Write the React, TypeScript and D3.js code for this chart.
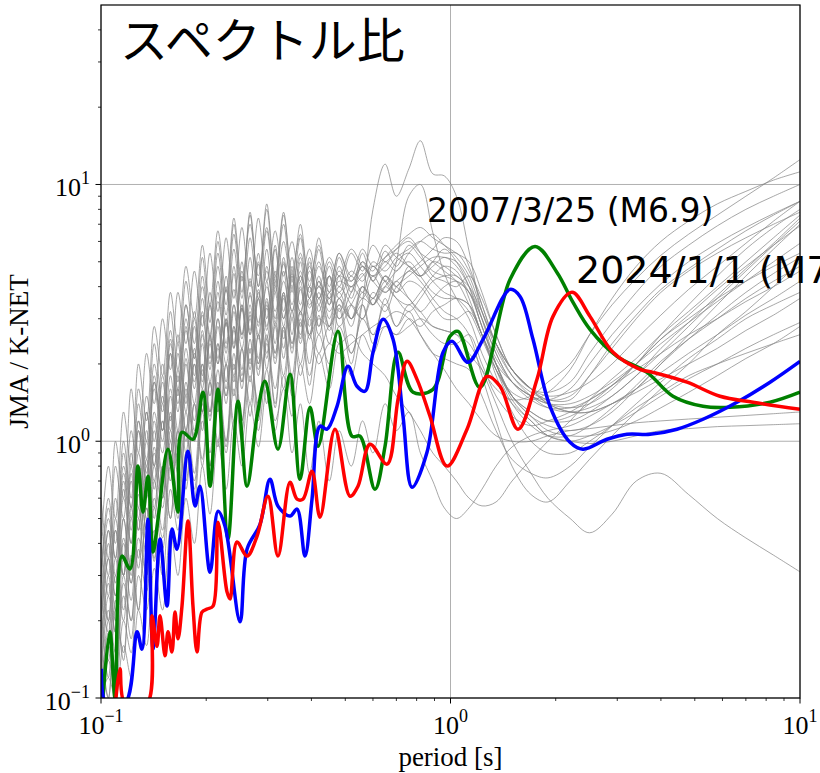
import React from "react";
import * as d3 from "d3";

// Shared period grid for the gray (other events) curves [s]
const periods = [
  0.100, 0.105, 0.110, 0.116, 0.122, 0.128, 0.135, 0.142,
  0.150, 0.158, 0.166, 0.175, 0.185, 0.195, 0.205, 0.216, 0.228, 0.240, 0.253, 0.267,
  0.282, 0.298, 0.315, 0.333, 0.352, 0.372, 0.395, 0.42, 0.45, 0.48,
  0.52, 0.56, 0.60, 0.65, 0.70, 0.76, 0.82, 0.89, 0.96,
  1.04, 1.13, 1.23, 1.35, 1.5, 1.7, 1.9,
  2.2, 2.5, 2.9, 3.4, 4.0, 4.8, 5.8, 7.0, 8.4, 10,
];

const gray01 = [0.15,0.35,0.25,0.6,0.4,1.1,0.7,1.6, 1.0,2.2,1.3,2.8,1.6,3.2,1.9,3.8,2.2,4.5,2.5,4.2, 2.6,4.8,2.9,5.2,3.2,4.6,3.0,4.2,3.4,4.8, 3.6,5.0,4.2,5.5,4.8,5.8,5.2,4.6,4.4, 4.2,3.8,3.0,2.2,1.7,1.5,1.4, 1.35,1.4,1.6,2.0,2.6,3.4,4.4,5.6,6.8,8.0];
const gray02 = [0.25,0.18,0.45,0.3,0.8,0.5,1.3,0.8, 1.8,1.1,2.4,1.4,3.0,1.7,3.4,2.0,3.9,2.3,4.4,2.6, 4.9,2.7,5.6,3.0,4.5,2.8,4.0,3.2,4.4,3.0, 3.8,4.5,3.4,4.0,4.6,5.0,4.4,3.8,3.6, 3.6,3.4,2.6,2.0,1.5,1.25,1.15, 1.1,1.15,1.3,1.6,2.0,2.5,3.1,3.8,4.5,5.2];
const gray03 = [0.1,0.2,0.13,0.3,0.2,0.5,0.3,0.7, 0.45,1.0,0.6,1.3,0.75,1.6,0.9,1.9,1.0,2.2,1.2,2.5, 1.3,2.6,1.4,2.8,1.6,3.0,1.8,2.6,2.0,2.8, 2.2,3.0,2.6,3.4,2.8,3.2,2.6,2.2,2.1, 2.0,1.9,1.5,1.1,0.85,0.75,0.72, 0.8,0.95,1.15,1.4,1.7,2.1,2.5,3.0,3.4,3.8];
const gray04 = [0.3,0.6,0.4,1.0,0.6,1.6,1.0,2.4, 1.4,3.2,1.9,4.2,2.4,5.2,2.9,6.0,3.4,7.0,3.8,7.8, 4.0,8.0,4.2,7.0,3.8,6.2,3.6,5.6,3.4,5.2, 3.8,5.4,4.2,5.0,4.6,5.4,6.0,6.4,5.8, 5.2,4.4,3.2,2.3,1.8,1.55,1.45, 1.45,1.8,2.4,3.1,3.9,4.7,5.6,6.6,7.6,8.6];
const gray05 = [0.2,0.12,0.3,0.2,0.5,0.32,0.8,0.5, 1.2,0.7,1.6,0.9,2.0,1.1,2.5,1.3,3.0,1.5,3.3,1.7, 3.6,1.9,3.8,2.1,4.0,2.4,3.6,2.6,3.8,2.8, 3.4,4.0,3.6,4.4,3.8,4.2,4.0,3.4,3.0, 3.0,3.2,2.6,1.8,1.3,1.0,0.9, 0.9,1.0,1.15,1.35,1.55,1.8,2.0,2.2,2.4,2.6];
const gray06 = [0.12,0.25,0.18,0.4,0.28,0.7,0.45,1.1, 0.7,1.5,0.9,2.0,1.1,2.4,1.3,2.8,1.6,3.2,1.8,3.4, 2.0,3.6,2.2,3.8,2.4,3.2,2.6,3.0,2.8,3.4, 2.2,3.5,8.0,12.0,9.0,11.5,14.8,11.0,10.8, 9.0,5.5,3.2,2.4,1.9,1.6,1.4, 1.3,1.3,1.4,1.6,2.0,2.6,3.4,4.4,5.6,7.0];
const gray07 = [0.35,0.2,0.5,0.3,0.75,0.45,1.1,0.7, 1.5,0.9,1.9,1.1,2.3,1.3,2.6,1.5,2.9,1.8,3.3,2.0, 3.6,2.2,4.0,2.5,4.4,2.6,4.0,2.8,3.6,3.0, 3.4,3.0,3.8,3.4,5.0,9.0,10.0,6.5,4.5, 3.6,3.0,2.2,1.7,1.4,1.2,1.05, 1.0,0.98,1.0,1.05,1.1,1.12,1.14,1.15,1.16,1.17];
const gray08 = [0.1,0.14,0.11,0.2,0.15,0.3,0.22,0.45, 0.3,0.65,0.45,0.9,0.6,1.2,0.8,1.5,1.0,1.8,1.2,2.1, 1.4,2.4,1.6,2.8,1.8,3.2,2.0,3.4,2.4,3.6, 2.8,4.0,3.4,4.4,4.0,4.6,4.2,3.6,3.2, 3.0,2.6,1.8,1.2,0.8,0.62,0.58, 0.7,0.85,1.05,1.3,1.6,2.0,2.6,3.2,4.0,5.0];
const gray09 = [0.18,0.4,0.25,0.65,0.4,0.9,0.6,1.3, 0.9,1.8,1.1,2.3,1.4,2.7,1.7,3.0,2.0,3.4,2.3,3.7, 2.5,4.0,2.8,4.2,3.0,4.4,3.3,4.0,3.2,3.8, 3.0,3.4,2.6,2.8,2.6,2.8,3.0,2.8,2.7, 2.6,2.4,1.9,1.4,1.0,0.75,0.6, 0.5,0.44,0.52,0.7,0.75,0.62,0.5,0.42,0.36,0.31];
const gray10 = [0.14,0.1,0.22,0.15,0.35,0.22,0.55,0.35, 0.8,0.5,1.1,0.7,1.4,0.85,1.7,1.0,2.0,1.2,2.3,1.4, 2.6,1.6,2.9,1.8,3.2,2.0,3.0,2.2,2.8,2.4, 2.6,2.2,2.0,1.8,1.5,1.3,1.1,0.9,0.8, 0.7,0.6,0.56,0.58,0.7,0.85,1.0, 1.2,1.45,1.75,2.1,2.6,3.2,4.0,5.0,6.2,7.6];
const gray11 = [0.4,0.25,0.6,0.35,0.9,0.55,1.3,0.8, 1.7,1.0,2.2,1.3,2.8,1.6,3.4,2.0,4.0,2.3,4.6,2.6, 5.0,2.8,4.6,3.0,4.2,3.2,4.6,3.6,5.0,4.0, 5.4,4.6,5.8,5.0,5.6,6.2,5.4,4.4,4.2, 4.0,4.4,3.6,2.6,1.9,1.6,1.55, 1.7,2.2,2.9,3.8,4.8,5.8,6.9,8.0,9.0,10.0];
const gray12 = [0.22,0.45,0.3,0.75,0.5,1.2,0.75,1.8, 1.1,2.4,1.5,3.0,1.8,3.6,2.1,4.2,2.4,4.8,2.6,5.2, 2.8,5.6,3.0,5.0,3.2,4.4,3.4,4.0,3.6,4.2, 4.0,4.4,4.8,4.2,3.6,3.2,3.6,4.2,4.4, 4.4,3.8,2.8,2.0,1.5,1.3,1.2, 1.25,1.4,1.65,2.0,2.5,3.0,3.6,4.2,4.8,5.4];
const gray13 = [0.12,0.3,0.2,0.5,0.3,0.8,0.5,1.2, 0.75,1.6,1.0,2.1,1.2,2.6,1.5,3.0,1.7,3.4,1.9,3.8, 2.1,4.2,2.4,4.6,2.6,5.0,2.8,4.4,3.0,4.0, 3.4,3.0,3.6,3.2,4.0,4.4,4.8,5.2,5.2, 5.0,4.2,3.0,2.0,1.45,1.2,1.05, 1.0,1.05,1.15,1.3,1.5,1.75,2.0,2.3,2.6,2.9];
const gray14 = [0.3,0.2,0.45,0.3,0.7,0.45,1.0,0.65, 1.4,0.9,1.8,1.1,2.2,1.3,2.6,1.5,3.0,1.7,3.4,1.9, 3.8,2.1,4.2,2.3,4.6,2.5,5.0,2.8,4.4,3.2, 4.0,3.6,4.4,3.8,4.2,3.6,3.2,2.8,2.7, 2.6,2.2,1.9,1.6,1.45,1.5,1.7, 2.0,2.6,3.4,4.3,5.3,6.4,7.6,9.0,10.6,12.5];
const gray15 = [0.1,0.16,0.12,0.25,0.17,0.38,0.26,0.55, 0.38,0.8,0.5,1.1,0.65,1.4,0.8,1.7,0.95,2.0,1.1,2.3, 1.2,2.5,1.35,2.7,1.5,2.9,1.65,3.1,1.8,3.3, 2.0,3.4,2.4,3.6,2.8,3.4,3.0,2.6,2.4, 2.4,2.6,2.0,1.5,1.25,1.15,1.2, 1.3,1.45,1.65,1.9,2.2,2.6,3.0,3.5,4.0,4.6];
const gray16 = [0.5,0.3,0.8,0.5,1.1,0.7,1.5,1.0, 2.0,1.2,2.6,1.5,3.2,1.8,3.8,2.1,4.4,2.4,5.0,2.7, 5.4,3.0,5.8,3.2,5.2,3.4,4.8,3.6,4.4,3.8, 4.6,4.2,5.0,4.6,5.2,5.6,6.0,5.6,5.4, 5.4,4.6,3.4,2.4,1.9,1.6,1.5, 1.55,1.7,2.0,2.5,3.1,3.9,4.8,5.9,7.2,8.6];
const gray17 = [0.16,0.1,0.24,0.14,0.36,0.22,0.55,0.34, 0.8,0.5,1.1,0.65,1.4,0.8,1.7,0.95,2.0,1.1,2.3,1.25, 2.6,1.4,2.8,1.6,3.0,1.8,2.6,2.0,2.4,2.2, 2.4,2.6,2.8,3.0,3.2,3.0,2.6,2.2,1.9, 1.6,1.4,1.2,1.05,1.0,1.0,1.05, 1.1,1.12,1.15,1.18,1.2,1.22,1.24,1.26,1.28,1.3];
const gray18 = [0.28,0.5,0.35,0.8,0.55,1.2,0.8,1.7, 1.1,2.2,1.4,2.7,1.7,3.1,2.0,3.5,2.3,3.9,2.6,4.3, 2.9,4.6,3.2,4.9,3.4,5.2,3.6,4.8,3.8,4.4, 4.2,4.8,4.4,5.2,5.8,6.4,6.8,6.2,5.8, 5.4,5.0,3.8,2.6,1.9,1.6,1.45, 1.5,1.8,2.3,3.0,3.8,4.6,5.4,6.2,7.0,7.8];
const gray19 = [0.11,0.18,0.13,0.28,0.2,0.42,0.3,0.6, 0.42,0.85,0.55,1.1,0.7,1.3,0.8,1.5,0.9,1.6,1.0,1.8, 1.1,1.9,1.2,1.6,0.9,1.4,0.75,1.2,0.7,1.1, 0.8,1.2,0.9,1.4,1.1,1.3,0.9,0.7,0.55, 0.5,0.55,0.65,0.8,0.95,1.05,1.1, 1.15,1.25,1.4,1.6,1.85,2.2,2.6,3.1,3.6,4.2];
const gray20 = [0.2,0.35,0.22,0.5,0.32,0.7,0.45,0.95, 0.6,1.3,0.8,1.7,1.0,2.0,1.2,2.4,1.4,2.8,1.6,3.1, 1.8,3.4,2.0,3.7,2.2,4.0,2.5,3.6,2.7,3.4, 3.0,3.6,3.4,4.2,3.8,4.8,4.4,5.0,4.8, 4.4,4.0,3.2,2.4,1.9,1.6,1.4, 1.3,1.3,1.4,1.55,1.75,2.0,2.3,2.7,3.1,3.6];
const gray21 = [0.4,0.8,0.5,1.3,0.8,2.0,1.2,2.8, 1.8,3.8,2.4,4.8,3.0,5.8,3.4,6.6,3.8,7.4,4.2,7.0, 4.4,6.8,4.0,7.6,4.6,6.4,4.2,5.8,4.0,5.4, 4.4,5.6,4.8,5.2,5.6,6.0,5.4,5.0,4.6, 4.2,3.4,2.6,2.0,1.7,1.5,1.45, 1.6,2.0,2.6,3.3,4.1,5.0,5.9,6.8,7.7,8.6];
const gray22 = [0.6,0.35,1.0,0.6,1.6,0.9,2.2,1.4, 3.0,1.9,3.8,2.4,4.6,2.8,5.4,3.2,6.2,3.6,6.8,4.0, 7.4,4.2,6.6,4.4,6.0,4.2,5.6,4.0,5.2,4.4, 5.6,4.8,4.4,4.8,5.4,4.8,4.4,5.0,5.6, 5.0,4.0,2.8,2.1,1.7,1.5,1.4, 1.4,1.5,1.7,2.0,2.4,2.9,3.5,4.2,5.0,5.9];
const gray23 = [0.1,0.12,0.1,0.16,0.12,0.22,0.16,0.32, 0.22,0.45,0.3,0.6,0.4,0.8,0.52,1.0,0.65,1.2,0.8,1.4, 0.95,1.6,1.1,1.8,1.25,2.0,1.4,2.2,1.6,2.4, 1.8,2.6,2.2,2.8,2.6,3.0,2.8,3.2,3.4, 3.6,3.4,2.6,1.9,1.4,1.15,1.05, 1.05,1.15,1.35,1.65,2.05,2.5,3.0,3.6,4.2,4.8];
const gray24 = [0.3,0.55,0.35,0.9,0.55,1.4,0.85,2.0, 1.3,2.7,1.7,3.4,2.1,4.0,2.5,4.8,2.8,5.6,3.2,6.2, 3.6,6.6,3.8,6.0,4.0,5.4,3.8,5.0,3.6,4.6, 4.0,4.8,4.2,3.8,4.2,4.6,5.0,5.6,6.2, 6.0,4.8,3.4,2.4,1.8,1.5,1.35, 1.3,1.35,1.5,1.8,2.2,2.8,3.6,4.6,5.8,7.2];
const gray25 = [0.13,0.22,0.15,0.35,0.24,0.55,0.36,0.8, 0.55,1.1,0.75,1.5,1.0,1.9,1.25,2.3,1.5,2.7,1.7,3.0, 1.9,3.3,2.1,3.6,2.3,3.9,2.6,4.2,2.8,4.4, 3.0,4.0,3.6,4.4,4.0,3.6,3.2,3.6,4.0, 4.2,3.8,2.8,2.0,1.5,1.25,1.1, 1.05,1.05,1.1,1.2,1.35,1.55,1.8,2.1,2.4,2.8];
const gray26 = [0.22,0.14,0.35,0.22,0.55,0.35,0.85,0.55, 1.2,0.8,1.6,1.0,2.0,1.3,2.4,1.6,2.9,1.9,3.4,2.2, 3.9,2.5,4.4,2.8,4.8,3.1,5.2,3.4,4.8,3.6, 4.4,3.8,4.8,4.2,5.0,5.4,4.8,4.2,3.8, 3.6,3.2,2.5,1.9,1.55,1.45,1.55, 1.9,2.6,3.6,4.8,6.0,7.2,8.4,9.4,10.4,11.2];
const gray27 = [0.16,0.28,0.18,0.42,0.28,0.62,0.4,0.9, 0.6,1.25,0.85,1.6,1.05,2.0,1.3,2.4,1.5,2.8,1.7,3.2, 2.0,3.5,2.2,3.8,2.4,4.2,2.6,3.8,2.8,3.6, 3.0,3.8,3.4,4.0,3.6,3.4,3.8,4.4,4.8, 4.6,3.6,2.6,1.9,1.5,1.3,1.2, 1.2,1.3,1.5,1.8,2.3,2.9,3.7,4.7,5.9,7.4];
const gray28 = [0.2,0.45,0.28,0.7,0.45,1.1,0.7,1.7, 1.1,2.5,1.6,3.4,2.1,4.4,2.6,5.4,3.1,6.4,3.6,7.6, 4.0,8.4,4.4,7.8,4.2,7.0,4.0,6.2,3.8,5.4, 4.2,5.0,4.6,5.8,5.2,4.8,4.4,4.8,5.2, 4.8,4.0,3.0,2.2,1.7,1.45,1.35, 1.35,1.45,1.65,2.0,2.5,3.1,3.9,4.8,5.8,6.9];
const grayLines = [gray01, gray02, gray03, gray04, gray05, gray06, gray07, gray08, gray09, gray10,
  gray11, gray12, gray13, gray14, gray15, gray16, gray17, gray18, gray19, gray20,
  gray21, gray22, gray23, gray24, gray25, gray26, gray27, gray28];

// 2007/3/25 (M6.9) — green
const greenPeriods = [0.101, 0.106, 0.1097, 0.1148, 0.1211, 0.1276, 0.1319, 0.1363, 0.1409, 0.1456, 0.1555, 0.1661, 0.1705, 0.1833, 0.1958, 0.2051, 0.2162, 0.2309, 0.2466, 0.2617, 0.2796, 0.2946, 0.3209, 0.3474, 0.371, 0.3963, 0.4178, 0.4766, 0.5226, 0.5509, 0.6081, 0.6497, 0.7077, 0.7813, 0.8912, 0.9968, 1.051, 1.214, 1.48, 1.745, 2.017, 2.242, 2.506, 2.995, 3.65, 4.331, 5.279, 6.305, 8.209, 10];
const greenValues = [0.095, 0.181, 0.1, 0.357, 0.318, 0.8, 0.53, 0.731, 0.37, 0.497, 0.931, 0.53, 1.084, 1.018, 1.552, 0.668, 1.593, 0.416, 1.431, 0.668, 1.251, 1.711, 0.931, 1.822, 0.711, 1.356, 0.956, 2.679, 1.046, 1.046, 0.65, 0.956, 2.219, 1.552, 1.593, 2.563, 2.679, 1.622, 4.267, 5.739, 4.545, 3.473, 2.728, 2.141, 1.855, 1.497, 1.368, 1.356, 1.419, 1.552];

// blue
const bluePeriods = [0.1003, 0.1035, 0.1171, 0.1268, 0.131, 0.1363, 0.1409, 0.1475, 0.1545, 0.1596, 0.165, 0.1774, 0.1858, 0.192, 0.2051, 0.2162, 0.2264, 0.2499, 0.2617, 0.2851, 0.3045, 0.3209, 0.3474, 0.3638, 0.3834, 0.4016, 0.4233, 0.4433, 0.4735, 0.5089, 0.5401, 0.5693, 0.6002, 0.6412, 0.6848, 0.7314, 0.7761, 0.8566, 0.9517, 1.01, 1.122, 1.239, 1.48, 1.581, 1.722, 1.926, 2.198, 2.393, 2.804, 3.199, 3.723, 4.447, 5.279, 6.602, 8.209, 10];
const blueValues = [0.13, 0.095, 0.095, 0.181, 0.155, 0.497, 0.155, 0.416, 0.228, 0.455, 0.38, 0.914, 0.559, 0.668, 0.309, 0.534, 0.467, 0.198, 0.38, 0.475, 0.711, 0.559, 0.511, 0.544, 0.357, 0.595, 1.144, 1.114, 1.368, 1.958, 1.637, 1.566, 2.219, 2.984, 2.494, 1.251, 0.662, 0.906, 2.219, 2.449, 2.029, 2.494, 3.902, 3.664, 2.494, 1.368, 0.991, 0.931, 1.018, 1.065, 1.065, 1.114, 1.218, 1.419, 1.698, 2.047];

// 2024/1/1 — red
const redPeriods = [0.110, 0.1133, 0.1171, 0.1354, 0.1399, 0.1446, 0.1475, 0.1525, 0.1555, 0.1596, 0.1628, 0.1661, 0.1705, 0.1774, 0.1833, 0.1883, 0.1945, 0.2011, 0.2092, 0.2162, 0.2294, 0.234, 0.245, 0.2617, 0.2796, 0.3005, 0.3209, 0.3474, 0.3638, 0.3784, 0.4016, 0.4233, 0.4673, 0.5157, 0.5436, 0.5884, 0.6583, 0.7077, 0.751, 0.802, 0.8737, 0.9772, 1.115, 1.272, 1.386, 1.56, 1.768, 1.965, 2.227, 2.506, 2.917, 3.485, 3.797, 4.75, 5.904, 7.337, 10];
const redValues = [0.095, 0.13, 0.095, 0.095, 0.209, 0.159, 0.209, 0.146, 0.181, 0.151, 0.216, 0.17, 0.228, 0.489, 0.228, 0.151, 0.216, 0.222, 0.228, 0.484, 0.259, 0.243, 0.405, 0.357, 0.427, 0.611, 0.357, 0.692, 0.595, 0.595, 0.764, 0.506, 1.114, 0.611, 0.668, 0.973, 0.814, 1.457, 2.047, 1.742, 1.251, 0.8, 1.114, 1.79, 1.637, 1.114, 1.742, 3.064, 3.801, 3.064, 2.219, 1.906, 1.855, 1.698, 1.497, 1.419, 1.332];

const xMajor = [0.1, 1, 10];
const xMajorExp = ["−1", "0", "1"];
const yMajor = [0.1, 1, 10];
const yMajorExp = ["−1", "0", "1"];

const W = 820;
const H = 773;
const L = 101, R = 800, T = 5, B = 698;

export default function App() {
  const x = d3.scaleLog().domain([0.1, 10]).range([L, R]);
  const y = d3.scaleLog().domain([0.1, 50]).range([B, T]);
  const line = d3
    .line<[number, number]>()
    .x((d) => x(d[0]))
    .y((d) => y(d[1]))
    .curve(d3.curveCatmullRom.alpha(0.5));

  const xMinor: number[] = [];
  [0.1, 1].forEach((dec) => { for (let k = 2; k <= 9; k++) xMinor.push(dec * k); });
  const yMinor: number[] = [];
  [0.1, 1, 10].forEach((dec) => { for (let k = 2; k <= 9; k++) if (dec * k < 50) yMinor.push(dec * k); });

  const serif = "'Liberation Serif', 'Times New Roman', serif";
  const sans = "'DejaVu Sans', sans-serif";

  const zip = (ps: number[], vs: number[]) => ps.map((p, i) => [p, vs[i]] as [number, number]);

  return (
    <svg width={W} height={H} style={{ position: "absolute", left: 0, top: 0, background: "#fff" }}>
      <defs>
        <clipPath id="plotclip">
          <rect x={L} y={T} width={R - L} height={B - T} />
        </clipPath>
      </defs>
      <rect x={0} y={0} width={W} height={H} fill="#fff" />
      {/* grid */}
      {xMajor.map((v) => (
        <line key={"gx" + v} x1={x(v)} x2={x(v)} y1={T} y2={B} stroke="#b0b0b0" strokeWidth={1} />
      ))}
      {yMajor.map((v) => (
        <line key={"gy" + v} x1={L} x2={R} y1={y(v)} y2={y(v)} stroke="#b0b0b0" strokeWidth={1} />
      ))}
      <g clipPath="url(#plotclip)">
        {grayLines.map((vals, i) => (
          <path key={"g" + i} d={line(zip(periods, vals)) || ""} fill="none" stroke="#858585" strokeWidth={0.85} strokeOpacity={0.85} />
        ))}
        <path d={line(zip(greenPeriods, greenValues)) || ""} fill="none" stroke="#008000" strokeWidth={3.5} />
        <path d={line(zip(bluePeriods, blueValues)) || ""} fill="none" stroke="#0000ff" strokeWidth={3.5} />
        <path d={line(zip(redPeriods, redValues)) || ""} fill="none" stroke="#ff0000" strokeWidth={3.5} />
      </g>
      {/* spines */}
      <rect x={L} y={T} width={R - L} height={B - T} fill="none" stroke="#000" strokeWidth={1.2} />
      {/* x ticks */}
      {xMajor.map((v) => (
        <line key={"xt" + v} x1={x(v)} x2={x(v)} y1={B} y2={B + 5.5} stroke="#000" strokeWidth={1} />
      ))}
      {xMinor.map((v) => (
        <line key={"xm" + v} x1={x(v)} x2={x(v)} y1={B} y2={B + 3} stroke="#000" strokeWidth={0.8} />
      ))}
      {yMajor.map((v) => (
        <line key={"yt" + v} x1={L - 5.5} x2={L} y1={y(v)} y2={y(v)} stroke="#000" strokeWidth={1} />
      ))}
      {yMinor.map((v) => (
        <line key={"ym" + v} x1={L - 3} x2={L} y1={y(v)} y2={y(v)} stroke="#000" strokeWidth={0.8} />
      ))}
      {/* tick labels */}
      {xMajor.map((v, i) => (
        <text key={"xl" + v} x={x(v)} y={734} textAnchor="middle" fontFamily={serif} fontSize={26} fill="#000">
          10<tspan dy={-12} fontSize={18}>{xMajorExp[i]}</tspan>
        </text>
      ))}
      {yMajor.map((v, i) => (
        <text key={"yl" + v} x={90} y={y(v) + 12} textAnchor="end" fontFamily={serif} fontSize={26} fill="#000">
          10<tspan dy={-12} fontSize={18}>{yMajorExp[i]}</tspan>
        </text>
      ))}
      {/* axis labels */}
      <text x={(L + R) / 2} y={766} textAnchor="middle" fontFamily={serif} fontSize={27} fill="#000">
        period [s]
      </text>
      <text transform={`translate(28, ${(T + B) / 2}) rotate(-90)`} textAnchor="middle" fontFamily={serif} fontSize={27} fill="#000">
        JMA / K-NET
      </text>
      {/* annotations */}
      <text x={120} y={58} fontFamily="'Noto Sans CJK JP', sans-serif" fontSize={48} fill="#000">
        スペクトル比
      </text>
      <text x={427} y={222} fontFamily={sans} fontSize={33} fill="#000">
        2007/3/25 (M6.9)
      </text>
      <text x={576} y={283} fontFamily={sans} fontSize={38} fill="#000">
        2024/1/1 (M7.6)
      </text>
    </svg>
  );
}
